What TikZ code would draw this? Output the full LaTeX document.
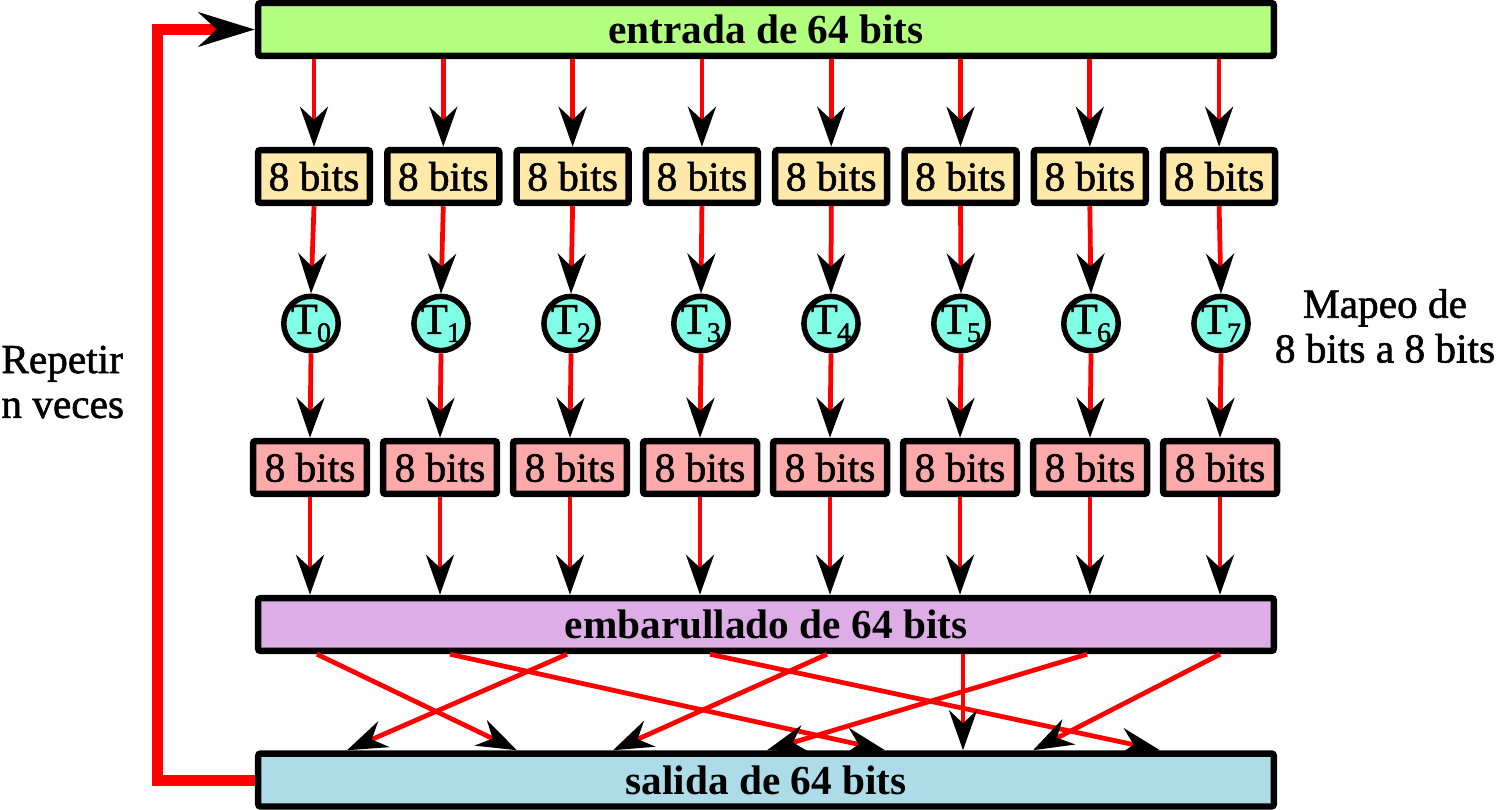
\documentclass[tikz,border=0pt]{standalone}
\usepackage{fontspec}
\setmainfont{Liberation Serif}
\newfontfamily\medfont{Liberation Serif}[FakeBold=1.4]
\usetikzlibrary{arrows.meta}
\definecolor{cgreen}{HTML}{B3FF80}
\definecolor{cyellow}{HTML}{FFE9A8}
\definecolor{caqua}{HTML}{80FFE6}
\definecolor{cpink}{HTML}{FFAAAA}
\definecolor{cpurple}{HTML}{DDAEE6}
\definecolor{cblue}{HTML}{ADDCE8}
\begin{document}
\begin{tikzpicture}[x=0.02cm,y=-0.02cm,
  lbl/.style={inner sep=0pt, font=\medfont\fontsize{23.5}{25.5}\selectfont},
  bigbox/.style={draw=black, line width=0.13cm, rounded corners=1.5pt, minimum width=20.32cm, minimum height=1.06cm, inner sep=0pt, font=\bfseries\fontsize{23.5}{25.5}\selectfont},
  smallbox/.style={draw=black, line width=0.13cm, rounded corners=1.5pt, minimum width=2.24cm, minimum height=1.06cm, inner sep=0pt, font=\medfont\fontsize{23.5}{25.5}\selectfont},
  tcirc/.style={circle, draw=black, line width=0.11cm, fill=caqua, minimum size=1.06cm, inner sep=0pt, font=\medfont\fontsize{25}{25.5}\selectfont},
  conn/.style={draw=red, line width=0.095cm, -{Stealth[length=0.8cm, width=0.56cm, inset=0.26cm, color=black]}},
  loopline/.style={draw=red, line width=0.22cm, -{Stealth[length=1.12cm, width=0.68cm, inset=0.36cm, color=black]}}
]
\path[use as bounding box] (0,0) rectangle (1500,810);

% big boxes
\node[bigbox, fill=cgreen] (top) at (766,29.5) {entrada de 64 bits};
\node[bigbox, fill=cpurple] (mid) at (766,624.5) {embarullado de 64 bits};
\node[bigbox, fill=cblue] (bot) at (766,780) {salida de 64 bits};

% columns
\foreach \i in {0,...,7} {
  \node[smallbox, fill=cyellow] (y\i) at ({314+129.3*\i},176.5) {8 bits};
  \node[tcirc] (c\i) at ({311+130*\i},323.5) {T\kern-0.5pt\raisebox{-0.4ex}{\fontsize{16}{16}\selectfont\i}};
  \node[smallbox, fill=cpink, minimum width=2.28cm] (p\i) at ({310+130*\i},467.5) {8 bits};
}

\foreach \i in {0,...,7} {
  \draw[conn] (y\i.north |- top.south) -- (y\i.north);
  \draw[conn] (y\i.south) -- (c\i.north);
  \draw[conn] (c\i.south) -- (p\i.north);
  \draw[conn] (p\i.south) -- (p\i.south |- mid.north);
}

% permutation
\foreach \s/\e [count=\k] in {317/517, 450/885, 567/347, 710/1160, 827/613, 963/963, 1087/767, 1220/1033} {
  \coordinate (s\k) at (\s,0);
  \coordinate (e\k) at (\e,0);
  \draw[conn] (mid.south -| s\k) -- (bot.north -| e\k);
}

% loop
\coordinate (lp) at (157.5,0);
\draw[loopline] (bot.west) -- (bot.west -| lp) -- (top.west -| lp) -- (top.west);

% side texts
\node[lbl, align=left, anchor=west] (rep) at (1,382) {Repetir\\n veces};
\node[lbl, align=center] (map) at (1385,326) {Mapeo de\\8 bits a 8 bits};
\end{tikzpicture}
\end{document}
